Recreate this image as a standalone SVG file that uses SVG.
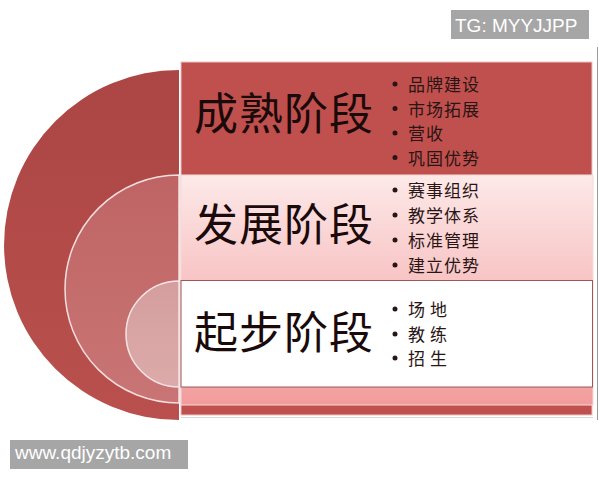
<svg xmlns="http://www.w3.org/2000/svg" width="600" height="480" viewBox="0 0 600 480">
<style>
.big{font-family:"Noto Sans CJK SC","Noto Sans CJK JP",sans-serif;font-size:44px;fill:#1a0a0a;letter-spacing:1px}
.item{font-family:"Noto Sans CJK SC","Noto Sans CJK JP",sans-serif;font-size:17px;fill:#2a1515;letter-spacing:1px}
.wide{letter-spacing:5px}
.dot{fill:#2a1515}
.wm{fill:#a6a6a6}
.wmt{font-family:"Liberation Sans",Arial,sans-serif;font-size:19px;fill:#ffffff}
</style>
<defs>
<linearGradient id="gOuter" x1="0" y1="0" x2="0" y2="1">
<stop offset="0" stop-color="#ab4644"/>
<stop offset="1" stop-color="#b9504d"/>
</linearGradient>
<linearGradient id="gMid" x1="0" y1="0" x2="0" y2="1">
<stop offset="0" stop-color="#bf6464"/>
<stop offset="1" stop-color="#c97575"/>
</linearGradient>
<linearGradient id="gIn" x1="0" y1="0" x2="0" y2="1">
<stop offset="0" stop-color="#d59e9e"/>
<stop offset="1" stop-color="#dcaaaa"/>
</linearGradient>
<linearGradient id="gPink" x1="0" y1="0" x2="0" y2="1">
<stop offset="0" stop-color="#fde9e9"/>
<stop offset="0.46" stop-color="#f8c4c4"/>
<stop offset="1" stop-color="#f29c9c"/>
</linearGradient>
</defs>
<rect width="600" height="480" fill="#ffffff"/>
<line x1="597.5" y1="47" x2="597.5" y2="420" stroke="#9a9a9a" stroke-width="1"/>
<line x1="181" y1="417.5" x2="593" y2="417.5" stroke="#d8d8d8" stroke-width="1"/>

<g id="mature">
<path d="M179,70 A175,175 0 0 0 179,420 Z" fill="url(#gOuter)"/>
<rect x="181" y="62" width="411" height="353" fill="#c0504d" stroke="#e9c4c3" stroke-width="1"/>
<text class="big" x="194" y="130">成熟阶段</text>
<circle class="dot" cx="395" cy="84" r="2.5"/>
<text class="item" x="408" y="91">品牌建设</text>
<circle class="dot" cx="395" cy="108.5" r="2.5"/>
<text class="item" x="408" y="115.5">市场拓展</text>
<circle class="dot" cx="395" cy="133" r="2.5"/>
<text class="item" x="408" y="140">营收</text>
<circle class="dot" cx="395" cy="157.5" r="2.5"/>
<text class="item" x="408" y="164.5">巩固优势</text>
</g>

<g id="develop">
<path d="M179,175 A114,114 0 0 0 179,403 Z" fill="url(#gMid)" stroke="#f4dede" stroke-width="1.5"/>
<rect x="181" y="175" width="412" height="230" fill="url(#gPink)" stroke="#f6dada" stroke-width="1"/>
<text class="big" x="194" y="241">发展阶段</text>
<circle class="dot" cx="395" cy="190" r="2.5"/>
<text class="item" x="408" y="197">赛事组织</text>
<circle class="dot" cx="395" cy="215" r="2.5"/>
<text class="item" x="408" y="222">教学体系</text>
<circle class="dot" cx="395" cy="240" r="2.5"/>
<text class="item" x="408" y="247">标准管理</text>
<circle class="dot" cx="395" cy="265" r="2.5"/>
<text class="item" x="408" y="272">建立优势</text>
</g>

<g id="start">
<path d="M179,281 A53,53 0 0 0 179,387 Z" fill="url(#gIn)" stroke="#f6e4e4" stroke-width="1.5"/>
<rect x="181" y="280.5" width="411.5" height="106.5" fill="#ffffff" stroke="#a05656" stroke-width="1"/>
<text class="big" x="194" y="349">起步阶段</text>
<circle class="dot" cx="395" cy="309" r="2.5"/>
<text class="item wide" x="408" y="316">场地</text>
<circle class="dot" cx="395" cy="334" r="2.5"/>
<text class="item wide" x="408" y="341">教练</text>
<circle class="dot" cx="395" cy="358" r="2.5"/>
<text class="item wide" x="408" y="365">招生</text>
</g>

<g id="connectors"></g>

<g id="watermark-top">
<rect class="wm" x="451" y="10" width="138" height="29"/>
<text class="wmt" x="455" y="32">TG: MYYJJPP</text>
</g>
<g id="watermark-bottom">
<rect class="wm" x="10" y="440" width="178" height="29"/>
<text class="wmt" x="15" y="459">www.qdjyzytb.com</text>
</g>
</svg>
